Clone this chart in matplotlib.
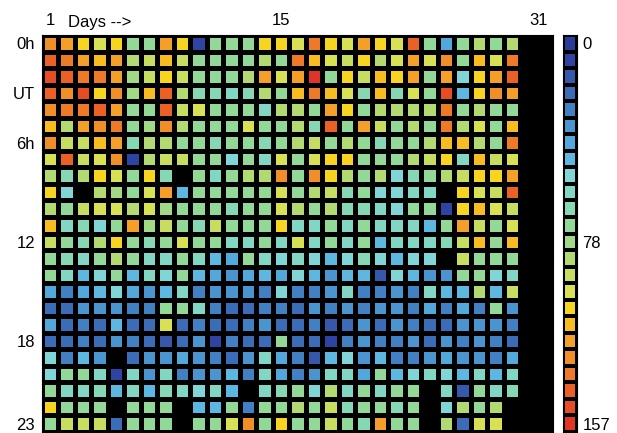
import numpy as np
import matplotlib.pyplot as plt
from matplotlib.colors import ListedColormap, BoundaryNorm

plt.rcParams['font.family'] = ['Liberation Sans', 'DejaVu Sans']

N = np.nan

# counts per hour (rows, 0h..23h UT) and day (columns, 1..31); nan = no data
counts = [
    [128, 124, 108, 100, 108, 75, 75, 124, 108, 8, 75, 75, 75, 108, 108, 100, 134, 108, 100, 124, 108, 100, 143, 75, 40, 75, 90, 75, 90, N, N],
    [140, 134, 124, 115, 124, 90, 95, 115, 95, 75, 75, 75, 75, 90, 78, 134, 112, 100, 92, 106, 90, 100, 124, 100, 126, 75, 115, 100, 132, N, N],
    [146, 140, 132, 136, 124, 82, 92, 108, 95, 78, 75, 76, 88, 120, 104, 120, 154, 75, 108, 92, 114, 108, 124, 78, 124, 58, 108, 120, 140, N, N],
    [140, 130, 145, 110, 126, 82, 114, 138, 90, 66, 66, 64, 68, 90, 78, 114, 134, 116, 100, 68, 112, 68, 102, 78, 146, 46, 108, 130, 122, N, N],
    [126, 134, 134, 140, 122, 75, 78, 138, 95, 100, 72, 72, 75, 64, 88, 90, 78, 120, 108, 78, 90, 88, 90, 90, 134, 78, 90, 78, 78, N, N],
    [116, 86, 118, 126, 132, 76, 80, 128, 90, 75, 75, 75, 102, 75, 78, 90, 66, 140, 78, 122, 95, 78, 88, 78, 132, 90, 100, 78, 114, N, N],
    [126, 95, 98, 112, 124, 66, 88, 90, 78, 75, 66, 75, 75, 68, 78, 88, 98, 75, 90, 75, 68, 75, 78, 88, 116, 112, 90, 78, 132, N, N],
    [100, 140, 95, 100, 126, 8, 90, 92, 95, 75, 78, 58, 75, 64, 102, 78, 100, 108, 108, 72, 78, 75, 90, 95, 108, 64, 112, 92, 100, N, N],
    [86, 68, 86, 108, 100, 76, 108, 66, N, 75, 60, 75, 88, 90, 126, 78, 126, 106, 90, 78, 90, 56, 66, 72, 86, 92, 108, 106, 120, N, N],
    [108, 58, N, 90, 82, 78, 100, 122, 52, 75, 78, 76, 76, 78, 100, 78, 86, 95, 66, 75, 58, 58, 64, 62, N, 106, 100, 92, 142, N, N],
    [90, 74, 95, 100, 102, 86, 104, 82, 75, 75, 78, 66, 78, 75, 102, 86, 76, 90, 66, 66, 64, 58, 75, 78, 8, 108, 112, 100, 95, N, N],
    [116, 64, 66, 58, 78, 118, 82, 95, 72, 66, 95, 78, 76, 78, 108, 62, 62, 78, 64, 75, 62, 62, 62, 46, 75, 120, 95, 78, 100, N, N],
    [95, 75, 66, 90, 108, 78, 66, 78, 100, 75, 78, 64, 60, 75, 60, 100, 64, 72, 60, 75, 48, 62, 64, 60, 66, 95, 114, 75, 114, N, N],
    [78, 66, 60, 78, 90, 75, 60, 64, 72, 60, 52, 42, 75, 60, 58, 60, 58, 52, 58, 70, 56, 52, 54, 58, N, 95, 78, 78, 78, N, N],
    [75, 64, 48, 56, 78, 52, 60, 58, 78, 48, 42, 36, 40, 48, 40, 54, 48, 38, 48, 52, 14, 56, 52, 34, 38, 75, 74, 58, 60, N, N],
    [40, 28, 40, 48, 56, 40, 38, 52, 60, 30, 38, 36, 38, 32, 58, 32, 32, 36, 60, 32, 30, 38, 32, 60, 48, 52, 86, 48, 98, N, N],
    [26, 20, 38, 36, 36, 32, 30, 75, 75, 62, 30, 24, 24, 32, 30, 20, 36, 32, 38, 32, 38, 36, 32, 42, 32, 42, 30, 78, 36, N, N],
    [42, 24, 32, 26, 46, 26, 24, 102, 24, 32, 26, 24, 30, 36, 26, 26, 30, 18, 26, 36, 26, 38, 32, 26, 24, 38, 36, 38, 30, N, N],
    [26, 20, 32, 26, 34, 30, 26, 18, 20, 36, 12, 30, 24, 24, 75, 20, 26, 12, 30, 38, 32, 30, 38, 26, 38, 32, 38, 30, 26, N, N],
    [58, 32, 48, 38, N, 24, 38, 36, 42, 38, 32, 26, 36, 62, 40, 30, 18, 52, 58, 38, 52, 32, 30, 38, 40, 38, 34, 32, 42, N, N],
    [56, 72, 76, 60, 12, 60, 36, 60, 32, 36, 38, 48, 32, 62, 42, 32, 38, 64, 62, 42, 75, 52, 58, 62, 58, 52, 62, 52, 62, N, N],
    [78, 64, 60, 66, 48, 62, 48, 68, 62, 58, 62, 48, N, 62, 66, 75, 58, 86, 64, 78, 64, 78, 72, N, 62, 18, 72, 62, 66, N, N],
    [108, 72, 76, 78, N, 75, 75, 78, N, 52, 52, 75, 32, 75, 78, 86, 72, 95, 66, 72, 78, 66, 75, N, 58, 86, 75, 90, N, N, N],
    [78, 95, 92, 98, 24, 75, 78, 78, N, 75, 78, 102, 130, 78, 108, 78, 78, 95, 72, 66, 120, 75, 78, N, 90, 24, 102, 100, N, N, N],
]

hour_ticks = [0, 3, 6, 12, 18, 23]
hour_labels = ['0h', 'UT', '6h', '12', '18', '23']
day_ticks = [1, 15, 31]
vmin, vmax = 0, 157
cbar_labels = ['0', '78', '157']

colors = ['#283c98', '#2f44a2', '#3558ac', '#3a6cb8', '#4280c4', '#4a94d0',
          '#52a8da', '#5cb8e0', '#80d6d6', '#82d7c4', '#86d8b4', '#92d896',
          '#a2d984', '#b2da70', '#c6dd60', '#d8e054', '#f7d420', '#f7bc20',
          '#f4a028', '#f08e28', '#ee7a27', '#eb6025', '#e84c25', '#df3426']
cmap = ListedColormap(colors)
bounds = np.linspace(vmin, vmax, len(colors) + 1)
norm = BoundaryNorm(bounds, cmap.N)

data = np.ma.masked_invalid(np.array(counts, dtype=float))
nrows, ncols = data.shape

fig = plt.figure(figsize=(6.17, 4.33), dpi=100)
ax = fig.add_axes([42 / 617, 1 / 433, 511 / 617, 397 / 433])
ax.set_facecolor('black')
ax.pcolormesh(np.arange(ncols + 1), np.arange(nrows + 1), data, cmap=cmap, norm=norm,
              edgecolors='black', linewidth=2.4)
ax.set_xlim(0, ncols)
ax.set_ylim(nrows, 0)

ax.xaxis.tick_top()
ax.set_xticks([d - 0.5 for d in day_ticks[:2]] + [day_ticks[2] - 0.9])
ax.set_xticklabels([str(d) for d in day_ticks], fontsize=12)
ax.set_yticks([h + 0.5 for h in hour_ticks])
ax.set_yticklabels(hour_labels, fontsize=12)
ax.tick_params(length=0, pad=5)
ax.text(1.55, 1.0, 'Days -->', transform=ax.get_xaxis_transform(),
        ha='left', va='bottom', fontsize=12)
for t in [ax.texts[-1]]:
    t.set_y(1.0 + 5 / 397)
for s in ax.spines.values():
    s.set_color('black')

# colour scale as a column of boxes, 0 at the top
cax = fig.add_axes([563 / 617, 1 / 433, 14 / 617, 397 / 433])
levels = (bounds[:-1] + bounds[1:]) / 2
cax.set_facecolor('black')
cax.pcolormesh(np.arange(2), np.arange(len(levels) + 1), levels.reshape(-1, 1),
               cmap=cmap, norm=norm, edgecolors='black', linewidth=1.5)
cax.set_xlim(0, 1)
cax.set_ylim(len(levels), 0)
cax.set_xticks([])
cax.yaxis.tick_right()
cax.set_yticks([0.5, len(levels) / 2 + 0.5, len(levels) - 0.5])
cax.set_yticklabels(cbar_labels, fontsize=12)
cax.tick_params(length=0, pad=4)

fig.savefig('out.png', dpi=100)
